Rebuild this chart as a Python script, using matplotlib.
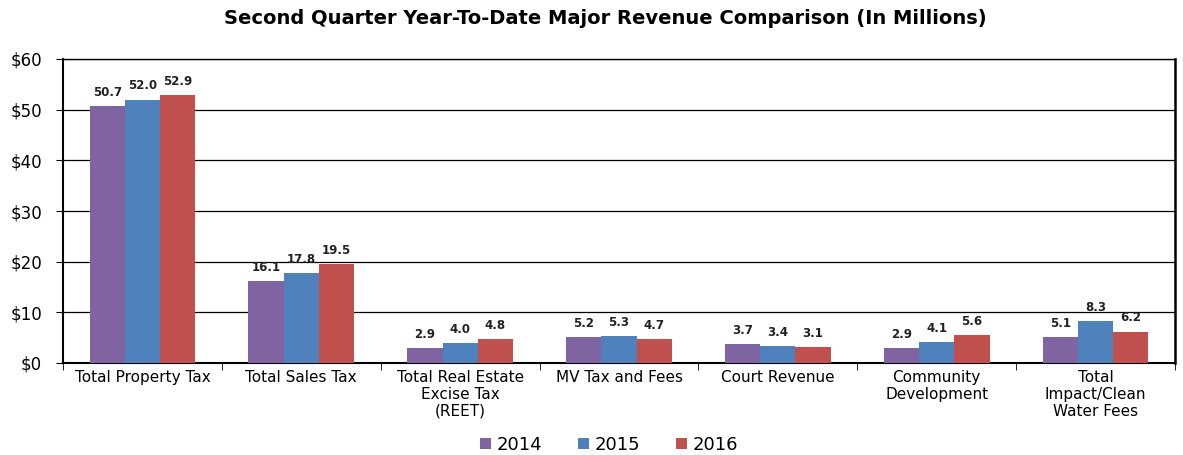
import numpy as np
import matplotlib.pyplot as plt

plt.rcParams['font.family'] = ['DejaVu Sans']

categories = ["Total Property Tax", "Total Sales Tax", "Total Real Estate\nExcise Tax\n(REET)",
              "MV Tax and Fees", "Court Revenue", "Community\nDevelopment",
              "Total\nImpact/Clean\nWater Fees"]
years = ["2014", "2015", "2016"]
vals_2014 = [50.7, 16.1, 2.9, 5.2, 3.7, 2.9, 5.1]
vals_2015 = [52.0, 17.8, 4.0, 5.3, 3.4, 4.1, 8.3]
vals_2016 = [52.9, 19.5, 4.8, 4.7, 3.1, 5.6, 6.2]
colors = ["#8064A2", "#4F81BD", "#C0504D"]

fig = plt.figure(figsize=(11.83, 4.55), dpi=100)
ax = fig.add_axes([63 / 1183, 1 - 363 / 455, (1175 - 63) / 1183, (363 - 59) / 455])

x = np.arange(len(categories))
w = 0.222
for i, (vals, c, yr) in enumerate(zip([vals_2014, vals_2015, vals_2016], colors, years)):
    bars = ax.bar(x + (i - 1) * w, vals, w, color=c, label=yr, zorder=3)
    for b, v in zip(bars, vals):
        ax.text(b.get_x() + b.get_width() / 2, v + 1.4, f"{v:.1f}", ha="center", va="bottom",
                fontsize=8.5, fontweight="bold", color="#222222")

ax.set_xlim(-0.5, len(categories) - 0.5)
ax.set_ylim(0, 60)
ax.set_yticks(range(0, 61, 10))
ax.set_yticklabels([f"${v}" for v in range(0, 61, 10)], fontsize=12)
ax.yaxis.grid(True, color="black", linewidth=0.9, zorder=0)

# category labels centered, ticks at the boundaries
ax.set_xticks(x)
ax.set_xticklabels(categories, fontsize=11, linespacing=1.15)
ax.tick_params(axis="x", length=0, pad=5)
ax.set_xticks(np.arange(len(categories) + 1) - 0.5, minor=True)
ax.tick_params(axis="x", which="minor", length=5, direction="out")
ax.tick_params(axis="y", length=5, direction="out", pad=10)

for s in ax.spines.values():
    s.set_color("black")
    s.set_linewidth(1.0)
ax.spines["left"].set_linewidth(1.5)
ax.spines["bottom"].set_linewidth(1.5)
ax.spines["right"].set_linewidth(1.8)

fig.text(0.512, 0.96, "Second Quarter Year-To-Date Major Revenue Comparison (In Millions)",
         ha="center", va="center", fontsize=14, fontweight="bold")

fig.legend(loc="center", bbox_to_anchor=(0.515, 0.022), ncol=3, frameon=False,
           fontsize=13, handlelength=0.6, handleheight=0.6, columnspacing=2.0,
           handletextpad=0.3)

fig.savefig("out.png", dpi=100)
